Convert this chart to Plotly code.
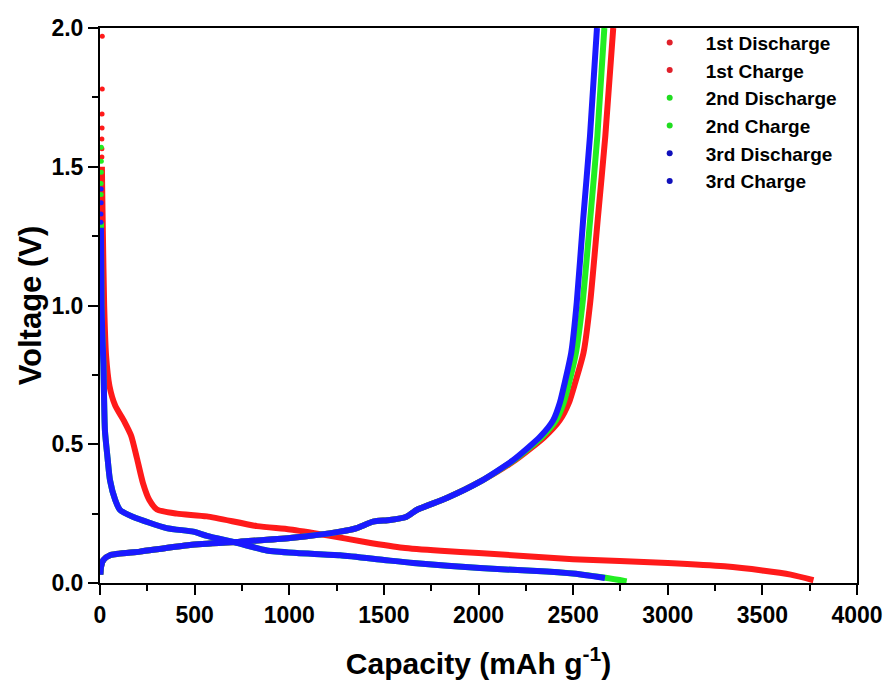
import plotly.graph_objects as go

# ---- data (capacity mAh/g, voltage V) ----
d1_sparse_cap = [12, 12, 11, 11, 10, 10, 10]
d1_sparse_v = [1.97, 1.78, 1.69, 1.64, 1.60, 1.565, 1.535]
d1_cap = [10, 12, 15, 22, 32, 50, 80, 130, 165, 195, 227, 260, 301, 407, 565, 830, 1004, 1200, 1400, 1600, 1800, 2000, 2500, 3000, 3300, 3500, 3650, 3770]
d1_v = [1.50, 1.40, 1.27, 1.00, 0.82, 0.71, 0.64, 0.58, 0.53, 0.45, 0.36, 0.30, 0.265, 0.25, 0.24, 0.205, 0.193, 0.172, 0.148, 0.127, 0.116, 0.108, 0.086, 0.072, 0.06, 0.045, 0.03, 0.01]

c1_cap = [2, 6, 18, 53, 211, 475, 740, 1004, 1268, 1357, 1443, 1532, 1620, 1673, 1832, 2008, 2195, 2350, 2430, 2478, 2510, 2555, 2590, 2630, 2670, 2712]
c1_v = [0.03, 0.06, 0.083, 0.1, 0.113, 0.137, 0.149, 0.162, 0.185, 0.198, 0.221, 0.227, 0.239, 0.263, 0.306, 0.365, 0.443, 0.527, 0.587, 0.65, 0.72, 0.83, 1.01, 1.31, 1.61, 2.0]

d2_sparse_cap = [7, 7, 7, 6, 6]
d2_sparse_v = [1.57, 1.52, 1.48, 1.44, 1.40]
d2_cap = [5, 8, 12, 18, 26, 40, 53, 80, 106, 176, 352, 493, 565, 722, 881, 1040, 1268, 1500, 1655, 2008, 2360, 2550, 2680, 2783]
d2_v = [1.30, 1.0, 0.9, 0.79, 0.55, 0.45, 0.37, 0.3, 0.263, 0.238, 0.198, 0.185, 0.17, 0.145, 0.117, 0.108, 0.1, 0.083, 0.072, 0.054, 0.041, 0.03, 0.018, 0.006]

c2_cap = [2, 6, 18, 53, 211, 475, 740, 1004, 1268, 1357, 1443, 1532, 1620, 1673, 1832, 2008, 2188, 2335, 2410, 2450, 2478, 2515, 2550, 2590, 2628, 2665]
c2_v = [0.03, 0.06, 0.083, 0.1, 0.113, 0.137, 0.149, 0.162, 0.185, 0.198, 0.221, 0.227, 0.239, 0.263, 0.306, 0.365, 0.443, 0.527, 0.587, 0.65, 0.72, 0.83, 1.01, 1.31, 1.61, 2.0]

d3_sparse_cap = [6, 6, 5, 5]
d3_sparse_v = [1.42, 1.37, 1.33, 1.30]
d3_cap = [5, 8, 12, 18, 26, 40, 53, 80, 106, 176, 352, 493, 565, 722, 881, 1040, 1268, 1500, 1655, 2008, 2360, 2550, 2668]
d3_v = [1.28, 1.0, 0.9, 0.79, 0.55, 0.45, 0.37, 0.3, 0.263, 0.238, 0.198, 0.185, 0.17, 0.145, 0.117, 0.108, 0.1, 0.083, 0.072, 0.054, 0.041, 0.03, 0.018]

c3_cap = [2, 6, 18, 53, 211, 475, 740, 1004, 1268, 1357, 1443, 1532, 1620, 1673, 1832, 2008, 2183, 2325, 2395, 2430, 2455, 2490, 2519, 2553, 2589, 2626]
c3_v = [0.03, 0.06, 0.083, 0.1, 0.113, 0.137, 0.149, 0.162, 0.185, 0.198, 0.221, 0.227, 0.239, 0.263, 0.306, 0.365, 0.443, 0.527, 0.587, 0.65, 0.72, 0.83, 1.01, 1.31, 1.61, 2.0]

names = ["1st Discharge", "1st Charge", "2nd Discharge", "2nd Charge", "3rd Discharge", "3rd Charge"]
RED, GREEN, BLUE = "#ff1a1a", "#22ee22", "#1a1aff"
LRED, LGREEN, LBLUE = "#e0202a", "#20dd20", "#1010bb"

fig = go.Figure()
LW = 6

def line(x, y, c):
    fig.add_trace(go.Scatter(x=x, y=y, mode="lines", line=dict(color=c, width=LW, shape="spline", smoothing=0.6),
                             showlegend=False, hoverinfo="skip"))

def dots(x, y, c):
    fig.add_trace(go.Scatter(x=x, y=y, mode="markers", marker=dict(color=c, size=5),
                             showlegend=False, hoverinfo="skip"))

line(d1_cap, d1_v, RED); dots(d1_sparse_cap, d1_sparse_v, RED)
line(c1_cap, c1_v, RED)
line(d2_cap, d2_v, GREEN); dots(d2_sparse_cap, d2_sparse_v, GREEN)
line(c2_cap, c2_v, GREEN)
line(d3_cap, d3_v, BLUE); dots(d3_sparse_cap, d3_sparse_v, BLUE)
line(c3_cap, c3_v, BLUE)

for n, c in zip(names, [LRED, LRED, LGREEN, LGREEN, LBLUE, LBLUE]):
    fig.add_trace(go.Scatter(x=[None], y=[None], mode="markers", name=n,
                             marker=dict(color=c, size=6)))

FONT = "Liberation Sans, Arial, sans-serif"
axis_common = dict(showline=True, linecolor="black", linewidth=2, mirror=True,
                   ticks="outside", tickwidth=2, tickcolor="black", ticklen=10,
                   showgrid=False, zeroline=False, automargin=False,
                   tickfont=dict(family=FONT, size=23, color="black", weight="bold"))

fig.update_xaxes(range=[0, 4000], dtick=500, tick0=0,
                 minor=dict(dtick=250, ticks="outside", ticklen=6, tickwidth=2, tickcolor="black"),
                 title=dict(text="Capacity (mAh g<sup>-1</sup>)", standoff=26,
                            font=dict(family=FONT, size=30, color="black", weight="bold")),
                 **axis_common)
fig.update_yaxes(range=[0, 2.0], dtick=0.5, tick0=0, tickformat=".1f",
                 minor=dict(dtick=0.25, ticks="outside", ticklen=6, tickwidth=2, tickcolor="black"),
                 title=dict(text="Voltage (V)", standoff=1,
                            font=dict(family=FONT, size=31, color="black", weight="bold")),
                 **axis_common)

fig.update_layout(
    width=885, height=681,
    margin=dict(l=100, r=28, t=28, b=98),
    paper_bgcolor="white", plot_bgcolor="white",
    legend=dict(x=0.705, y=1.008, xanchor="left", yanchor="top",
                bgcolor="rgba(0,0,0,0)", itemwidth=62,
                font=dict(family=FONT, size=19, color="black", weight="bold")),
)

fig.write_html("out.html")
